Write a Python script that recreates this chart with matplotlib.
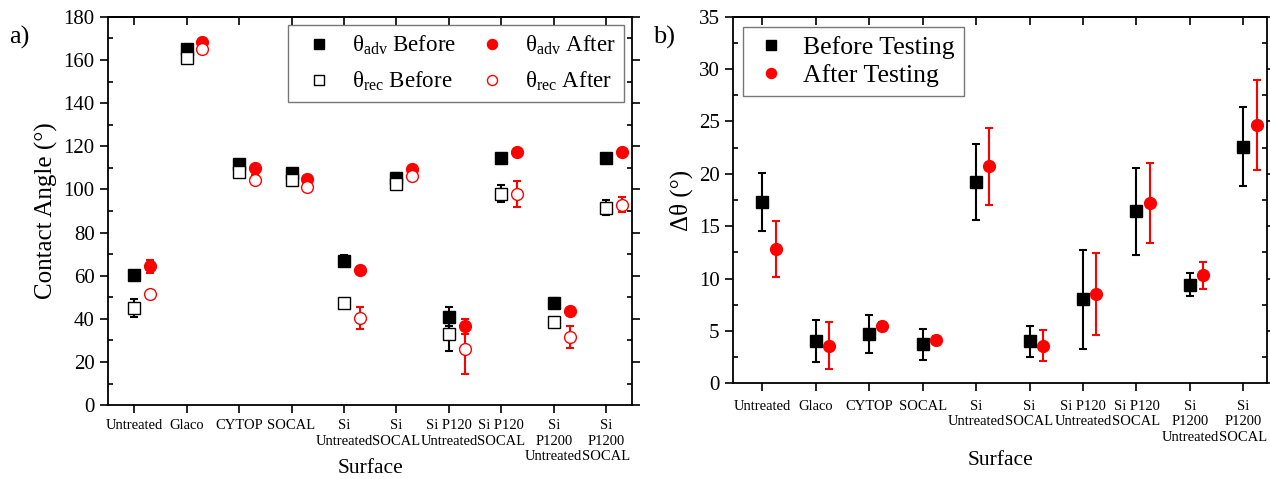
import matplotlib
matplotlib.use('Agg')
import matplotlib.pyplot as plt
import numpy as np

plt.rcParams['font.family'] = ['Liberation Serif', 'DejaVu Serif']
plt.rcParams['mathtext.fontset'] = 'custom'
plt.rcParams['mathtext.rm'] = 'Liberation Serif'
plt.rcParams['mathtext.it'] = 'Liberation Serif:italic'

# data
surfaces = ['Untreated', 'Glaco', 'CYTOP', 'SOCAL', 'Si\nUntreated', 'Si\nSOCAL',
            'Si P120\nUntreated', 'Si P120\nSOCAL', 'Si\nP1200\nUntreated', 'Si\nP1200\nSOCAL']

adv_before = [60.5, 165, 112, 107.5, 67, 105.5, 41, 114.5, 47.5, 114.5]
adv_before_err = [1.5, 1.5, 1.5, 1.5, 2.5, 2, 4.5, 1.5, 2, 1.5]
rec_before = [45, 161, 108, 104.5, 47.5, 102.5, 33, 98, 38.5, 91.5]
rec_before_err = [4, 1.5, 2, 2, 1.5, 2, 8, 4, 1.5, 3.5]
adv_after = [64.5, 168.5, 110, 105, 62.5, 109.5, 36.5, 117.5, 43.5, 117.5]
adv_after_err = [3, 1, 1.5, 1, 1, 1.5, 3.5, 1, 1, 1]
rec_after = [51.5, 165, 104.5, 101, 40.5, 106, 26, 98, 31.5, 93]
rec_after_err = [1.5, 1, 2, 1.5, 5, 1.5, 11.5, 6, 5, 3.5]

dtheta_before = [17.3, 4.0, 4.7, 3.7, 19.2, 4.0, 8.0, 16.4, 9.4, 22.6]
dtheta_before_err = [2.8, 2.0, 1.8, 1.5, 3.6, 1.5, 4.7, 4.2, 1.1, 3.8]
dtheta_after = [12.8, 3.6, 5.5, 4.1, 20.7, 3.6, 8.5, 17.2, 10.3, 24.7]
dtheta_after_err = [2.7, 2.2, 0.3, 0.4, 3.7, 1.5, 3.9, 3.8, 1.3, 4.3]

x = np.arange(1, len(surfaces) + 1)

fig = plt.figure(figsize=(12.7, 4.79), dpi=100)
ax1 = fig.add_axes([0.085, 0.154, 0.413, 0.811])
ax2 = fig.add_axes([0.577, 0.200, 0.421, 0.765])

ms = 8.5
eb = dict(capsize=3, elinewidth=1.5, capthick=1.5)

# panel a
c1 = ax1.errorbar(x, adv_before, yerr=adv_before_err, fmt='s', color='black', ms=ms, **eb)
c2 = ax1.errorbar(x + 0.3, adv_after, yerr=adv_after_err, fmt='o', color='red', ms=ms, **eb)
c3 = ax1.errorbar(x, rec_before, yerr=rec_before_err, fmt='s', color='black', mfc='white',
                  ms=ms, **eb)
c4 = ax1.errorbar(x + 0.3, rec_after, yerr=rec_after_err, fmt='o', color='red', mfc='white',
                  ms=ms, **eb)

ax1.set_xlim(0.5, 10.5)
ax1.set_ylim(0, 180)
ax1.set_yticks(np.arange(0, 181, 20))
ax1.set_yticks(np.arange(10, 180, 20), minor=True)
ax1.set_ylabel('Contact Angle (°)', fontsize=18)
leg1 = ax1.legend([c1[0], c3[0], c2[0], c4[0]],
                  [r'$\mathrm{θ_{adv}}$ Before', r'$\mathrm{θ_{rec}}$ Before',
                   r'$\mathrm{θ_{adv}}$ After', r'$\mathrm{θ_{rec}}$ After'],
                  ncol=2, loc='upper right', fontsize=16.5, fancybox=False, edgecolor='#555555',
                  handlelength=1.9, handletextpad=0.5, columnspacing=0.6, borderpad=0.4,
                  labelspacing=0.55, borderaxespad=0.35, markerscale=0.85)
leg1.get_frame().set_linewidth(1.0)

# panel b
d1 = ax2.errorbar(x, dtheta_before, yerr=dtheta_before_err, fmt='s', color='black', ms=ms, **eb)
d2 = ax2.errorbar(x + 0.25, dtheta_after, yerr=dtheta_after_err, fmt='o', color='red', ms=ms, **eb)
ax2.set_xlim(0.45, 10.45)
ax2.set_ylim(0, 35)
ax2.set_yticks(np.arange(0, 36, 5))
ax2.set_yticks(np.arange(2.5, 35, 5), minor=True)
ax2.set_ylabel('Δθ (°)', fontsize=18)
leg2 = ax2.legend([d1[0], d2[0]], ['Before Testing', 'After Testing'], loc='upper left',
                  fontsize=18.5, fancybox=False, edgecolor='#555555', handlelength=1.5,
                  handletextpad=0.5, borderpad=0.35, labelspacing=0.2, borderaxespad=0.4,
                  markerscale=0.85)
leg2.get_frame().set_linewidth(1.0)

for ax, ylab, pad in ((ax1, -0.163, 4), (ax2, -0.21, 6)):
    ax.set_xticks(x)
    ax.set_xticklabels(surfaces, fontsize=10.5, linespacing=1.25)
    ax.set_xlabel('Surface', fontsize=15.5)
    ax.xaxis.set_label_coords(0.5, ylab)
    ax.xaxis.label.set_va('center')
    ax.tick_params(axis='x', which='major', direction='out', length=6, width=1.2, pad=pad,
                   top=False)
    ax.tick_params(axis='y', which='major', direction='out', length=6, width=1.2,
                   labelsize=15, right=True)
    ax.tick_params(axis='y', which='minor', direction='in', length=3.5, width=1.2, right=True)
    top = ax.secondary_xaxis('top')
    top.set_xticks(x)
    top.tick_params(direction='in', length=6, width=1.2, labeltop=False)
    for s in ax.spines.values():
        s.set_linewidth(1.3)
    top.spines['top'].set_linewidth(1.3)

fig.text(0.007, 0.91, 'a)', fontsize=19)
fig.text(0.514, 0.91, 'b)', fontsize=19)

fig.savefig('out.png', dpi=100)
